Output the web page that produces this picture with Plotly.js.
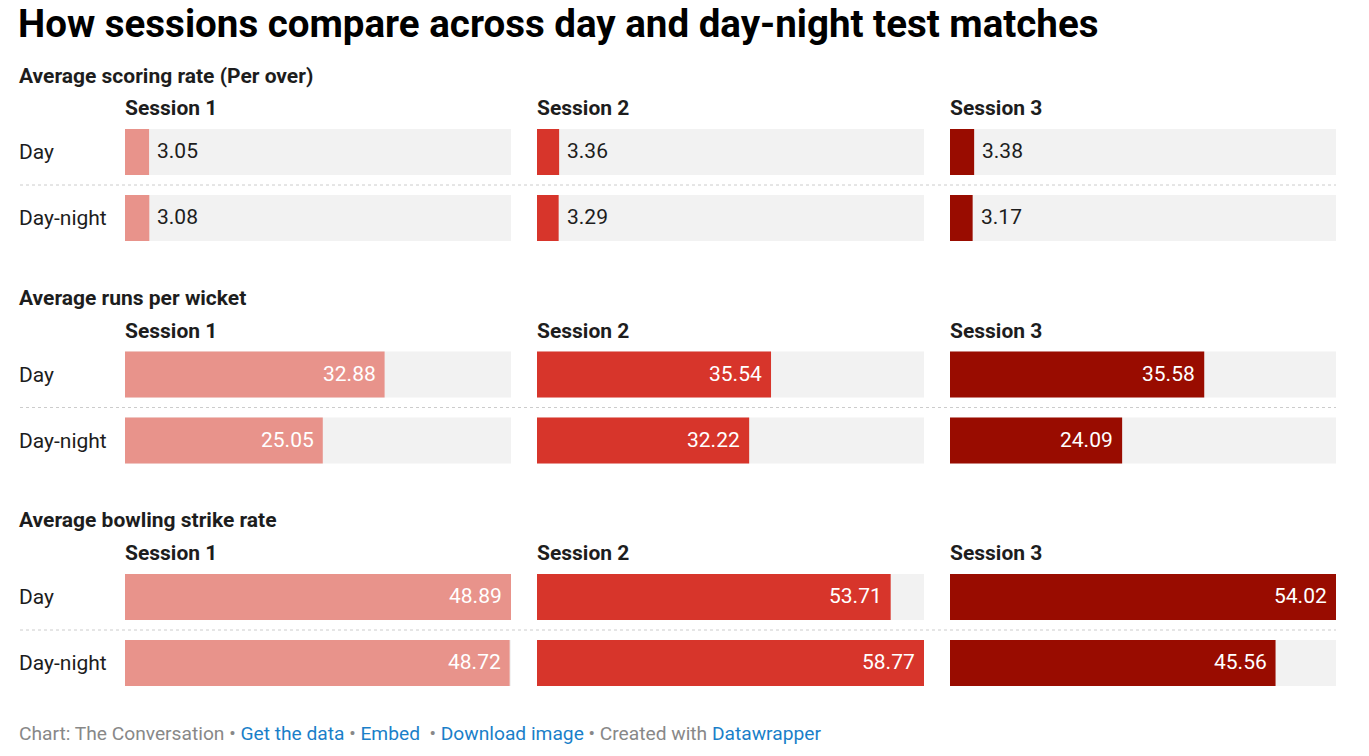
<!DOCTYPE html>
<html>
<head>
<meta charset="utf-8">
<script src="https://cdn.plot.ly/plotly-3.0.1.min.js"></script>
<style>html,body{margin:0;padding:0;background:#fff;}#chart{width:1369px;height:756px;}</style>
</head>
<body>
<div id="chart"></div>
<script>
// ---- data ----
const sessions = ["Session 1", "Session 2", "Session 3"];
const groups = ["Day", "Day-night"];
const metrics = ["Average scoring rate (Per over)", "Average runs per wicket", "Average bowling strike rate"];
// values[session] = [Day, Day-night]
const scoringRate = [[3.05, 3.08], [3.36, 3.29], [3.38, 3.17]];
const runsPerWicket = [[32.88, 25.05], [35.54, 32.22], [35.58, 24.09]];
const strikeRate = [[48.89, 48.72], [53.71, 58.77], [54.02, 45.56]];
const sessionColors = ["#e8938b", "#d7352b", "#990c00"];

// ---- layout geometry (pixels) ----
const W = 1369, H = 756;
const colPx = [[125, 511], [537, 924], [950, 1336]];
const rowPx = [[119, 251], [341.5, 473.5], [564, 696]];
const panelTitleY = [76, 298, 520];
const sessionHeadY = [108, 331, 553];
const sepY = [185, 407.5, 630];
const px = v => v / W;
const py = v => 1 - v / H;
const TX = -3; // annotation text padding correction

const metricData = [scoringRate, runsPerWicket, strikeRate];
const colMax = sessions.map((s, c) => Math.max(...metricData.map(m => Math.max(...m[c]))));

const traces = [];
const layout = {
  width: W, height: H,
  margin: {l: 0, r: 0, t: 0, b: 0},
  paper_bgcolor: "#fff", plot_bgcolor: "rgba(0,0,0,0)",
  barmode: "overlay",
  showlegend: false,
  font: {family: "Roboto, sans-serif", color: "#1d1d1d"},
  annotations: [], shapes: []
};

let k = 0;
metricData.forEach((m, r) => {
  sessions.forEach((s, c) => {
    k++;
    const xa = "x" + (k === 1 ? "" : k), ya = "y" + (k === 1 ? "" : k);
    const xKey = "xaxis" + (k === 1 ? "" : k), yKey = "yaxis" + (k === 1 ? "" : k);
    layout[xKey] = {domain: [px(colPx[c][0]), px(colPx[c][1])], range: [0, colMax[c]],
      showgrid: false, zeroline: false, showticklabels: false, fixedrange: true, anchor: ya};
    layout[yKey] = {domain: [py(rowPx[r][1]), py(rowPx[r][0])], range: [1.5, -0.5], type: "category",
      categoryarray: groups, showgrid: false, zeroline: false, showticklabels: false, fixedrange: true, anchor: xa};
    traces.push({type: "bar", orientation: "h", x: groups.map(() => colMax[c]), y: groups,
      xaxis: xa, yaxis: ya, marker: {color: "#f2f2f2"}, width: 0.697, hoverinfo: "skip"});
    traces.push({type: "bar", orientation: "h", x: m[c], y: groups,
      xaxis: xa, yaxis: ya, marker: {color: sessionColors[c]}, width: 0.697, hoverinfo: "x"});
    const inside = r > 0;
    m[c].forEach((v, i) => {
      layout.annotations.push({xref: xa, yref: ya, x: v, y: groups[i],
        text: v.toFixed(2), showarrow: false,
        xanchor: inside ? "right" : "left", xshift: inside ? -7 : 6, yshift: 1,
        font: {size: 21, color: inside ? "#ffffff" : "#1d1d1d", family: "Roboto, sans-serif"}});
    });
    layout.annotations.push({xref: "paper", yref: "paper", x: px(colPx[c][0]), xshift: TX + 1, y: py(sessionHeadY[r]),
      text: "<b>" + s + "</b>", showarrow: false, xanchor: "left", yanchor: "middle",
      font: {size: 21, color: "#1d1d1d"}});
  });
  layout.annotations.push({xref: "paper", yref: "paper", x: px(20), xshift: TX, y: py(panelTitleY[r]),
    text: "<b>" + metrics[r] + "</b>", showarrow: false, xanchor: "left", yanchor: "middle",
    font: {size: 21, color: "#1d1d1d"}});
  // row labels
  const slot = (rowPx[r][1] - rowPx[r][0]) / 2;
  groups.forEach((g, i) => {
    layout.annotations.push({xref: "paper", yref: "paper", x: px(20), xshift: TX, y: py(rowPx[r][0] + slot * (i + 0.5)),
      text: g, showarrow: false, xanchor: "left", yanchor: "middle",
      font: {size: 21, color: "#1d1d1d"}});
  });
  layout.shapes.push({type: "line", xref: "paper", yref: "paper", x0: px(20), x1: px(1336),
    y0: py(sepY[r]), y1: py(sepY[r]), line: {color: "#cccccc", width: 1, dash: "dot"}});
});

layout.annotations.push({xref: "paper", yref: "paper", x: px(20), xshift: TX - 1, y: py(23),
  text: "<b>How sessions compare across day and day-night test matches</b>", showarrow: false,
  xanchor: "left", yanchor: "middle", font: {size: 38.5, color: "#000000"}});

layout.annotations.push({xref: "paper", yref: "paper", x: px(20), xshift: TX, y: py(733),
  text: 'Chart: The Conversation • <span style="color:#1a7fc9">Get the data</span> • <span style="color:#1a7fc9">Embed</span>  • <span style="color:#1a7fc9">Download image</span> • Created with <span style="color:#1a7fc9">Datawrapper</span>',
  showarrow: false, xanchor: "left", yanchor: "middle", font: {size: 19.2, color: "#888888"}});

Plotly.newPlot("chart", traces, layout, {displayModeBar: false, staticPlot: true});
</script>
</body>
</html>
